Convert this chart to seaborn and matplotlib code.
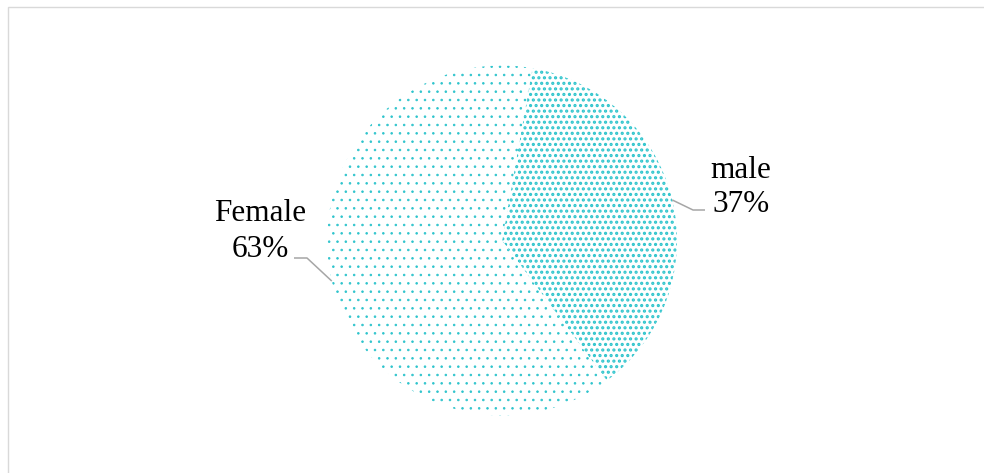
import numpy as np
import matplotlib
matplotlib.use("Agg")
import matplotlib.pyplot as plt
import seaborn as sns
from matplotlib.patches import Rectangle

# ---- data ----
categories = ["male", "Female"]
shares = [37, 63]
label_names = ["male", "Female"]

# ---- style ----
sns.set_theme(style="white")
plt.rcParams["font.family"] = ["Liberation Serif", "DejaVu Serif"]

W, H = 984, 473
fig = plt.figure(figsize=(W / 100, H / 100), dpi=100)
fig.patch.set_facecolor("white")

# pie placement (pixels from top-left)
cx, cy_top, r = 502.0, 240.5, 175.0
ax = fig.add_axes([(cx - r) / W, (H - cy_top - r) / H, 2 * r / W, 2 * r / H])

dot = "#2ec4cc"
hatches = ["...", ".."]
hatch_lw = [1.5, 0.6]
wedges = []
for i, (h, lw) in enumerate(zip(hatches, hatch_lw)):
    plt.rcParams["hatch.linewidth"] = lw
    cols = ["none", "none"]
    cols[i] = "white"
    ws, _ = ax.pie(shares, startangle=80, counterclock=False, radius=1,
                   colors=cols, wedgeprops=dict(edgecolor=dot, linewidth=0))
    ws[i].set_hatch(h)
    if hasattr(ws[i], "set_hatch_linewidth"):
        ws[i].set_hatch_linewidth(lw)
    ws[1 - i].set_visible(False)
    wedges.append(ws[i])

ax.set_xlim(-1, 1)
ax.set_ylim(-1, 1)
ax.set_aspect("equal")
ax.axis("off")


def px(x, y):
    """pixel (from top-left) -> data coords of the pie axes"""
    return (x - cx) / r, (cy_top - y) / r


total = sum(shares)
text_kw = dict(fontsize=22.5, color="black", ha="center", va="baseline")
line_kw = dict(color="#a6a6a6", lw=1.1, solid_capstyle="butt", clip_on=False)

# label layout (pixels): name x, name baseline, pct baseline, elbow, end
layout = {
    "male": dict(x=741, yb1=178, yb2=212, elbow=(693, 210), end=(705, 210)),
    "Female": dict(x=260.5, yb1=221, yb2=257, elbow=(307, 258), end=(294, 258)),
}

for w, name, val in zip(wedges, label_names, shares):
    L = layout[name]
    ang = np.deg2rad((w.theta1 + w.theta2) / 2)
    sx, sy = np.cos(ang), np.sin(ang)
    ex, ey = px(*L["elbow"])
    tx, ty = px(*L["end"])
    ax.plot([sx, ex, tx], [sy, ey, ty], **line_kw)
    x1, y1 = px(L["x"], L["yb1"])
    x2, y2 = px(L["x"], L["yb2"])
    ax.text(x1, y1, name, clip_on=False, **text_kw)
    ax.text(x2, y2, f"{round(val / total * 100)}%", clip_on=False, **text_kw)

# chart border (cropped at right/bottom like the reference)
fig.add_artist(Rectangle((8.3 / W, -0.05), 1.2, (H - 7.3) / H + 0.05,
                         transform=fig.transFigure, fill=False,
                         edgecolor="#d9d9d9", lw=1.0))

fig.savefig("out.png", dpi=100, facecolor="white")
